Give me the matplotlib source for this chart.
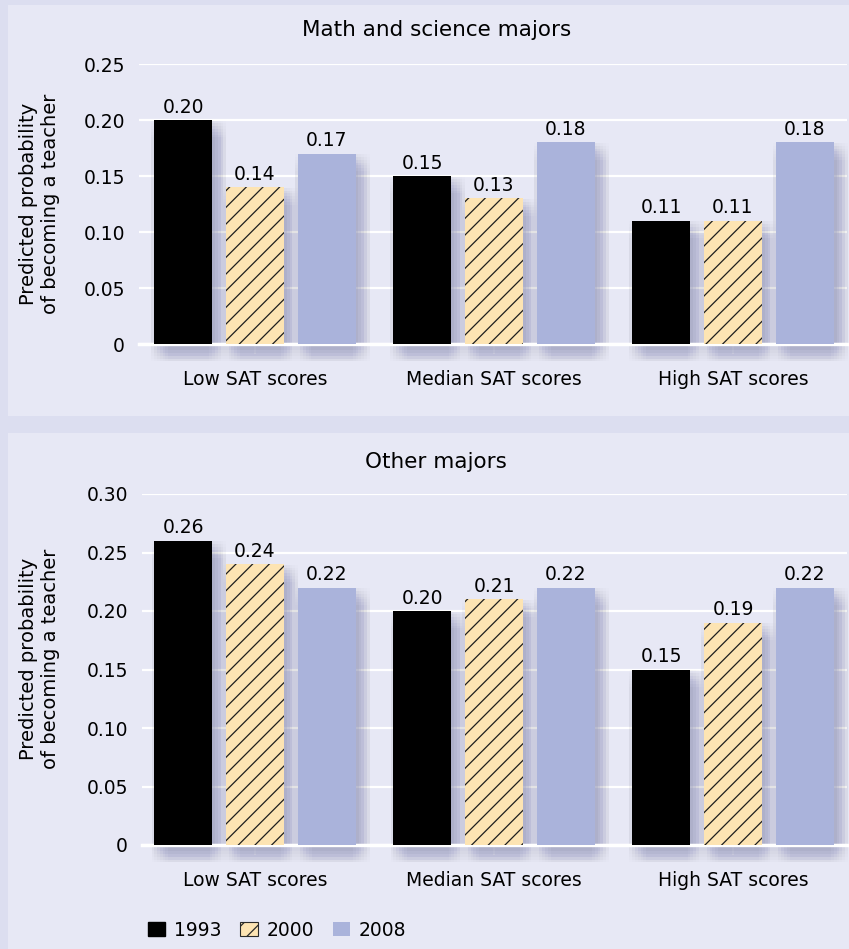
import numpy as np
import matplotlib
matplotlib.use("Agg")
import matplotlib.pyplot as plt
import matplotlib.patheffects as pe
from matplotlib.patches import Rectangle, Patch

groups = ["Low SAT scores", "Median SAT scores", "High SAT scores"]
years = ["1993", "2000", "2008"]

math_1993 = [0.20, 0.15, 0.11]
math_2000 = [0.14, 0.13, 0.11]
math_2008 = [0.17, 0.18, 0.18]

other_1993 = [0.26, 0.20, 0.15]
other_2000 = [0.24, 0.21, 0.19]
other_2008 = [0.22, 0.22, 0.22]

OUTER = "#dcdef0"
PANEL = "#e7e8f5"
BLUE = "#aab3db"
TAN = "#fde4b3"

plt.rcParams["font.family"] = "DejaVu Sans"
plt.rcParams["hatch.linewidth"] = 0.9

W, H = 849, 949
fig = plt.figure(figsize=(W / 100, H / 100), dpi=100)
fig.patch.set_facecolor(OUTER)


def px(x0, y0, x1, y1):
    # pixel box (top-left origin) -> figure fraction rect
    return [x0 / W, 1 - y1 / H, (x1 - x0) / W, (y1 - y0) / H]


for box in [(8, 5, W, 416), (8, 433, W, H)]:
    l, b, w, h = px(*box)
    fig.patches.append(Rectangle((l, b), w, h, transform=fig.transFigure,
                                 facecolor=PANEL, edgecolor="none", zorder=-1))

# soft drop shadow: a grid of offset copies = cheap box blur
blur = np.linspace(-6.0, 6.0, 7)
shadow = [pe.SimplePatchShadow(offset=(4.0 + dx, -6.5 + dy), shadow_rgbFace="#3c4066", alpha=0.009)
          for dx in blur for dy in blur]


def panel(rect, series, title, title_xy, ytop, xlim):
    ax = fig.add_axes(px(*rect))
    ax.set_facecolor("none")
    x = np.arange(len(groups))
    styles = [dict(color="black"),
              dict(facecolor=TAN, edgecolor="#1e1e1e", hatch="//", linewidth=0),
              dict(color=BLUE)]
    for i, (vals, st) in enumerate(zip(series, styles)):
        xs = x + (i - 1) * 0.3
        sh = ax.bar(xs, vals, width=0.243, color="none", zorder=2, clip_on=False)
        for b in sh:
            b.set_path_effects(shadow)
        ax.bar(xs, vals, width=0.243, zorder=5, clip_on=False, **st)
        for xi, v in zip(xs, vals):
            ax.annotate(f"{v:.2f}", (xi, v), xytext=(0, 2.5), textcoords="offset points",
                        ha="center", va="bottom", fontsize=13.5, zorder=6)
    ax.set_xlim(*xlim)
    ax.set_ylim(0, ytop)
    ticks = np.arange(0, ytop + 0.001, 0.05)
    ax.set_yticks(ticks)
    ax.set_yticklabels(["0" if t == 0 else f"{t:.2f}" for t in ticks])
    ax.set_xticks(x)
    ax.set_xticklabels(groups)
    ax.grid(axis="y", color="white", linewidth=1.6, zorder=1)
    ax.set_axisbelow(True)
    ax.axhline(0, color="white", linewidth=2.5, zorder=4, clip_on=False)
    for s in ax.spines.values():
        s.set_visible(False)
    ax.tick_params(axis="y", length=0, pad=10, labelsize=13.5)
    ax.tick_params(axis="x", length=7, width=1.2, color="#f4f4fa", pad=12, labelsize=13.5)
    fig.text(title_xy[0] / W, 1 - title_xy[1] / H, title, ha="center", va="center", fontsize=15.5)
    return ax


panel((139, 64, 847, 344), [math_1993, math_2000, math_2008],
      "Math and science majors", (437, 30), 0.25, (-0.485, 2.477))
fig.text(40 / W, 1 - 204 / H, "Predicted probability\nof becoming a teacher",
         rotation=90, ha="center", va="center", fontsize=14, linespacing=1.2)

panel((142, 494, 847, 845), [other_1993, other_2000, other_2008],
      "Other majors", (436, 462), 0.30, (-0.473, 2.477))
fig.text(40 / W, 1 - 659 / H, "Predicted probability\nof becoming a teacher",
         rotation=90, ha="center", va="center", fontsize=14, linespacing=1.2)

handles = [Patch(facecolor="black", edgecolor="black"),
           Patch(facecolor=TAN, edgecolor="#2a2a2a", hatch="//", linewidth=0.8),
           Patch(facecolor=BLUE, edgecolor="none")]
fig.legend(handles, years, loc="center left", bbox_to_anchor=(140 / W, 1 - 930 / H),
           ncol=3, frameon=False, fontsize=13.5, handlelength=0.95, handleheight=0.8,
           handletextpad=0.45, columnspacing=1.0, borderaxespad=0)

fig.savefig("out.png", dpi=100, facecolor=fig.get_facecolor())
